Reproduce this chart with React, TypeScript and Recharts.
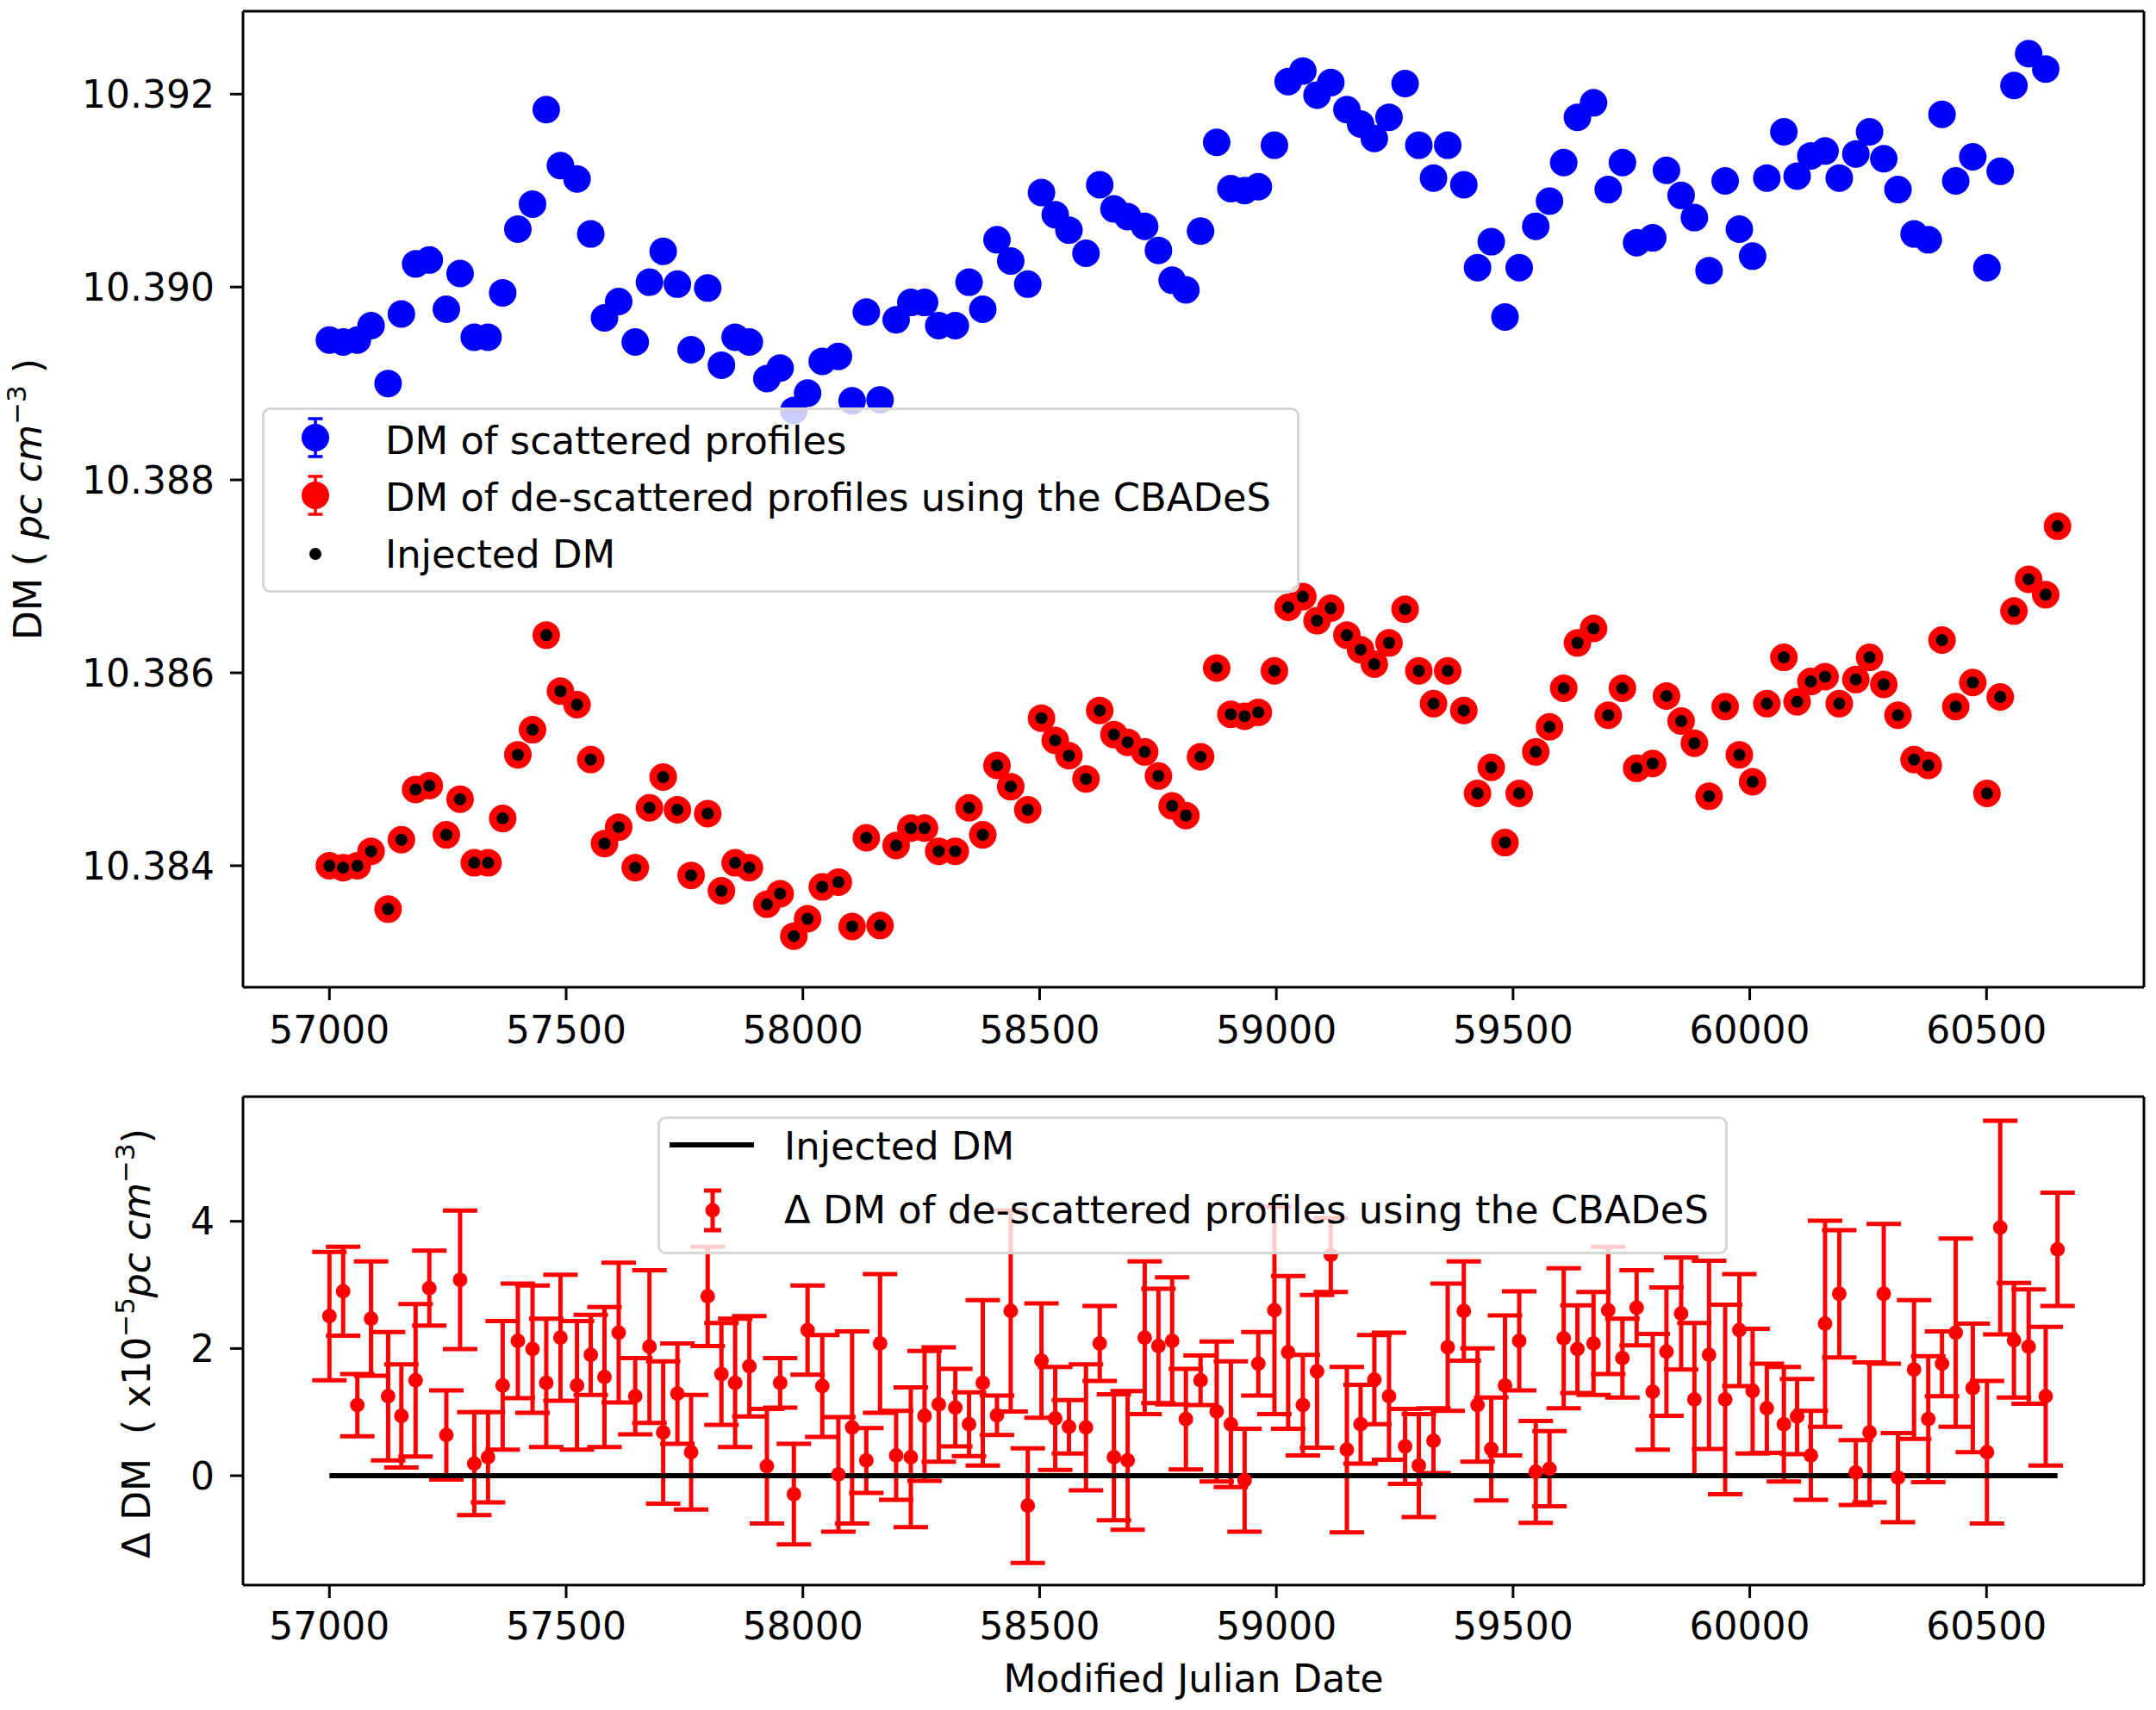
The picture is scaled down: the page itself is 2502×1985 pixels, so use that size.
import { ComposedChart, Scatter, XAxis, YAxis, ErrorBar, Legend } from "recharts";

const FONT = '"DejaVu Sans", Verdana, sans-serif';
const BLUE = "#0000ff";
const RED = "#ff0000";

// Modified Julian Date of each epoch
const mjd = [
  57000, 57029, 57059, 57088, 57124, 57152, 57182, 57211, 57247, 57276,
  57306, 57335, 57366, 57398, 57429, 57458, 57488, 57523, 57552, 57581,
  57611, 57646, 57676, 57705, 57735, 57764, 57799, 57828, 57857, 57887,
  57924, 57952, 57981, 58010, 58041, 58075, 58104, 58134, 58163, 58197,
  58228, 58257, 58287, 58322, 58351, 58380, 58410, 58439, 58475, 58504,
  58533, 58562, 58598, 58627, 58657, 58686, 58722, 58751, 58780, 58809,
  58840, 58874, 58904, 58933, 58962, 58996, 59025, 59056, 59086, 59115,
  59149, 59178, 59207, 59238, 59272, 59301, 59332, 59362, 59396, 59425,
  59454, 59483, 59513, 59548, 59577, 59607, 59636, 59670, 59701, 59731,
  59761, 59795, 59824, 59855, 59883, 59914, 59948, 59978, 60006, 60036,
  60072, 60100, 60129, 60159, 60189, 60224, 60253, 60283, 60313, 60347,
  60377, 60406, 60435, 60471, 60501, 60529, 60558, 60589, 60625, 60650,
];

// DM of scattered profiles (last epoch is off the top of the axes)
const scatteredDm = [
  10.38945, 10.38943, 10.38945, 10.3896, 10.389, 10.38972, 10.39024, 10.39028, 10.38977, 10.39014,
  10.38948, 10.38948, 10.38994, 10.3906, 10.39086, 10.39184, 10.39126, 10.39112, 10.39055, 10.38968,
  10.38985, 10.38943, 10.39005, 10.39037, 10.39003, 10.38935, 10.38999, 10.38919, 10.38948, 10.38943,
  10.38905, 10.38916, 10.38872, 10.3889, 10.38923, 10.38928, 10.38882, 10.38974, 10.38883, 10.38966,
  10.38984, 10.38984, 10.3896, 10.3896, 10.39005, 10.38977, 10.39049, 10.39027, 10.39003, 10.39098,
  10.39075, 10.39059, 10.39035, 10.39106, 10.39081, 10.39073, 10.39063, 10.39038, 10.39007, 10.38997,
  10.39058, 10.3915, 10.39102, 10.391, 10.39104, 10.39147, 10.39213, 10.39224, 10.39199, 10.39212,
  10.39184, 10.39169, 10.39154, 10.39176, 10.39211, 10.39147, 10.39113, 10.39147, 10.39106, 10.3902,
  10.39047, 10.38969, 10.3902, 10.39063, 10.39089, 10.39129, 10.39176, 10.39191, 10.39101, 10.39129,
  10.39046, 10.39051, 10.39121, 10.39095, 10.39072, 10.39017, 10.3911, 10.3906, 10.39032, 10.39113,
  10.39161, 10.39115, 10.39136, 10.39141, 10.39113, 10.39138, 10.39161, 10.39133, 10.39101, 10.39055,
  10.39049, 10.39179, 10.3911, 10.39135, 10.3902, 10.3912, 10.39209, 10.39242, 10.39226,
];

// DM of de-scattered profiles (CBADeS)
const descatteredDm = [
  10.384, 10.38398, 10.384, 10.38415, 10.38355, 10.38427, 10.38479, 10.38483, 10.38432, 10.38469,
  10.38403, 10.38403, 10.38449, 10.38515, 10.38541, 10.38639, 10.38581, 10.38567, 10.3851, 10.38423,
  10.3844, 10.38398, 10.3846, 10.38492, 10.38458, 10.3839, 10.38454, 10.38374, 10.38403, 10.38398,
  10.3836, 10.38371, 10.38327, 10.38345, 10.38378, 10.38383, 10.38337, 10.38429, 10.38338, 10.38421,
  10.38439, 10.38439, 10.38415, 10.38415, 10.3846, 10.38432, 10.38504, 10.38482, 10.38458, 10.38553,
  10.3853, 10.38514, 10.3849, 10.38561, 10.38536, 10.38528, 10.38518, 10.38493, 10.38462, 10.38452,
  10.38513, 10.38605, 10.38557, 10.38555, 10.38559, 10.38602, 10.38668, 10.38679, 10.38654, 10.38667,
  10.38639, 10.38624, 10.38609, 10.38631, 10.38666, 10.38602, 10.38568, 10.38602, 10.38561, 10.38475,
  10.38502, 10.38424, 10.38475, 10.38518, 10.38544, 10.38584, 10.38631, 10.38646, 10.38556, 10.38584,
  10.38501, 10.38506, 10.38576, 10.3855, 10.38527, 10.38472, 10.38565, 10.38515, 10.38487, 10.38568,
  10.38616, 10.3857, 10.38591, 10.38596, 10.38568, 10.38593, 10.38616, 10.38588, 10.38556, 10.3851,
  10.38504, 10.38634, 10.38565, 10.3859, 10.38475, 10.38575, 10.38664, 10.38697, 10.38681, 10.38752,
];

// Injected DM (sits on the de-scattered points at this scale)
const injectedDm = [
  10.384, 10.38398, 10.384, 10.38415, 10.38355, 10.38427, 10.38479, 10.38483, 10.38432, 10.38469,
  10.38403, 10.38403, 10.38449, 10.38515, 10.38541, 10.38639, 10.38581, 10.38567, 10.3851, 10.38423,
  10.3844, 10.38398, 10.3846, 10.38492, 10.38458, 10.3839, 10.38454, 10.38374, 10.38403, 10.38398,
  10.3836, 10.38371, 10.38327, 10.38345, 10.38378, 10.38383, 10.38337, 10.38429, 10.38338, 10.38421,
  10.38439, 10.38439, 10.38415, 10.38415, 10.3846, 10.38432, 10.38504, 10.38482, 10.38458, 10.38553,
  10.3853, 10.38514, 10.3849, 10.38561, 10.38536, 10.38528, 10.38518, 10.38493, 10.38462, 10.38452,
  10.38513, 10.38605, 10.38557, 10.38555, 10.38559, 10.38602, 10.38668, 10.38679, 10.38654, 10.38667,
  10.38639, 10.38624, 10.38609, 10.38631, 10.38666, 10.38602, 10.38568, 10.38602, 10.38561, 10.38475,
  10.38502, 10.38424, 10.38475, 10.38518, 10.38544, 10.38584, 10.38631, 10.38646, 10.38556, 10.38584,
  10.38501, 10.38506, 10.38576, 10.3855, 10.38527, 10.38472, 10.38565, 10.38515, 10.38487, 10.38568,
  10.38616, 10.3857, 10.38591, 10.38596, 10.38568, 10.38593, 10.38616, 10.38588, 10.38556, 10.3851,
  10.38504, 10.38634, 10.38565, 10.3859, 10.38475, 10.38575, 10.38664, 10.38697, 10.38681, 10.38752,
];

// Delta DM of de-scattered profiles, x1e-5 pc cm^-3
const deltaDm = [
  2.51, 2.9, 1.11, 2.47, 1.25, 0.94, 1.5, 2.95, 0.64, 3.08,
  0.19, 0.29, 1.42, 2.12, 1.99, 1.46, 2.17, 1.42, 1.9, 1.55,
  2.25, 1.25, 2.03, 0.68, 1.29, 0.37, 2.82, 1.6, 1.46, 1.72,
  0.15, 1.46, -0.29, 2.29, 1.41, 0.02, 0.76, 0.24, 2.08, 0.32,
  0.29, 0.94, 1.12, 1.07, 0.81, 1.46, 0.95, 2.59, -0.47, 1.81,
  0.9, 0.77, 0.76, 2.08, 0.29, 0.24, 2.17, 2.04, 2.12, 0.89,
  1.5, 1.01, 0.81, -0.07, 1.76, 2.6, 1.94, 1.11, 1.64, 3.47,
  0.41, 0.81, 1.51, 1.25, 0.46, 0.16, 0.55, 2.02, 2.59, 1.11,
  0.42, 1.42, 2.12, 0.06, 0.11, 2.16, 1.99, 2.08, 2.6, 1.85,
  2.64, 1.32, 1.95, 2.55, 1.2, 1.9, 1.2, 2.29, 1.33, 1.06,
  0.81, 0.93, 0.32, 2.39, 2.86, 0.05, 0.68, 2.86, -0.03, 1.67,
  0.89, 1.76, 2.25, 1.38, 0.37, 3.9, 2.13, 2.03, 1.25, 3.56,
];

const deltaErr = [
  1.01, 0.7, 0.49, 0.9, 1.01, 0.81, 1.2, 0.59, 0.7, 1.09,
  0.81, 0.71, 1.01, 0.9, 1.0, 1.01, 0.99, 1.01, 0.63, 1.1,
  1.1, 0.6, 1.2, 1.12, 0.79, 0.9, 0.78, 0.8, 1.01, 0.79,
  0.9, 0.39, 0.79, 0.7, 0.8, 0.9, 1.51, 0.51, 1.09, 0.7,
  1.1, 1.02, 0.9, 0.61, 0.5, 1.3, 0.31, 1.58, 0.9, 0.9,
  0.81, 0.42, 0.99, 0.59, 0.99, 1.09, 1.2, 0.9, 1.0, 0.79,
  0.39, 1.1, 0.99, 0.81, 0.5, 1.63, 1.2, 0.79, 1.2, 0.58,
  1.3, 0.62, 0.7, 1.0, 0.59, 0.81, 0.51, 1.0, 0.78, 0.89,
  0.81, 1.1, 0.78, 0.8, 0.59, 1.1, 0.69, 0.81, 1.0, 0.62,
  0.59, 0.91, 1.01, 0.88, 1.2, 1.48, 1.49, 0.88, 0.98, 0.7,
  0.9, 0.59, 0.7, 1.62, 1.0, 0.51, 1.1, 1.1, 0.7, 1.09,
  0.99, 0.51, 1.48, 1.01, 1.12, 1.68, 0.9, 0.9, 1.09, 0.89,
];

const mjdTicks = [57000, 57500, 58000, 58500, 59000, 59500, 60000, 60500];
const dmTicks = [10.384, 10.386, 10.388, 10.39, 10.392];
const deltaTicks = [0, 2, 4];

const MJD_DOMAIN = [56817.5, 60832.5];
const DM_DOMAIN = [10.38274, 10.39286];
const DELTA_DOMAIN = [-1.72, 5.96];

const scatteredRows = scatteredDm.map((dm, i) => ({ mjd: mjd[i], dm }));
const descatteredRows = descatteredDm.map((dm, i) => ({ mjd: mjd[i], dm }));
const injectedRows = injectedDm.map((dm, i) => ({ mjd: mjd[i], dm }));
const deltaRows = deltaDm.map((d, i) => ({ mjd: mjd[i], d, err: deltaErr[i] }));
const injectedDeltaRows = mjd.map((m) => ({ mjd: m, d: 0 }));

const tickStyle = { fill: "#000", fontSize: 44, fontFamily: FONT };
const lineStyle = { stroke: "#000", strokeWidth: 3 };

const dot = (r: number, fill: string) => (p: any) =>
  <circle cx={p.cx} cy={p.cy} r={r} fill={fill} />;

const legendBox = (w: number, h: number) => ({
  width: w,
  height: h,
  boxSizing: "border-box" as const,
  background: "rgba(255,255,255,0.8)",
  border: "3px solid #d6d6d6",
  borderRadius: 9,
});

const ErrIcon = ({ x, y, r, half, cap, color, sw }: any) => (
  <g>
    <line x1={x} x2={x} y1={y - half} y2={y + half} stroke={color} strokeWidth={sw} />
    <line x1={x - cap / 2} x2={x + cap / 2} y1={y - half} y2={y - half} stroke={color} strokeWidth={sw} />
    <line x1={x - cap / 2} x2={x + cap / 2} y1={y + half} y2={y + half} stroke={color} strokeWidth={sw} />
    <circle cx={x} cy={y} r={r} fill={color} />
  </g>
);

const TopLegend = () => (
  <div style={legendBox(1204, 215)}>
    <svg width={1198} height={209} style={{ display: "block" }} fontFamily={FONT} fontSize={44.8}>
      <ErrIcon x={59} y={32} r={16} half={22} cap={17} color={BLUE} sw={3.5} />
      <text x={140} y={51}>DM of scattered profiles</text>
      <ErrIcon x={59} y={99} r={16} half={22} cap={17} color={RED} sw={3.5} />
      <text x={140} y={117}>DM of de-scattered profiles using the CBADeS</text>
      <circle cx={59} cy={167} r={7} fill="#000" />
      <text x={140} y={183}>Injected DM</text>
    </svg>
  </div>
);

const BottomLegend = () => (
  <div style={legendBox(1242, 160)}>
    <svg width={1236} height={154} style={{ display: "block" }} fontFamily={FONT} fontSize={44.8}>
      <line x1={11} x2={109} y1={30} y2={30} stroke="#000" strokeWidth={6} />
      <text x={144} y={47}>Injected DM</text>
      <ErrIcon x={61} y={106} r={8.5} half={23} cap={20} color={RED} sw={5} />
      <text x={144} y={121}>Δ DM of de-scattered profiles using the CBADeS</text>
    </svg>
  </div>
);

const TopYLabel = (props: any) => {
  const vb = props.viewBox || { x: 0, y: 13, width: 282, height: 1133 };
  const cy = vb.y + vb.height / 2;
  const x = 48;
  return (
    <text x={x} y={cy} transform={`rotate(-90 ${x} ${cy})`} textAnchor="middle"
      fontFamily={FONT} fontSize={44} fill="#000" style={{ whiteSpace: "pre" }}>
      {"DM ( "}
      <tspan fontStyle="italic">pc cm</tspan>
      <tspan dy={-18} fontSize={31}>−3</tspan>
      <tspan dy={18}>{" )"}</tspan>
    </text>
  );
};

const BottomYLabel = (props: any) => {
  const vb = props.viewBox || { x: 0, y: 23, width: 282, height: 567 };
  const cy = vb.y + vb.height / 2 + 3;
  const x = 174;
  return (
    <text x={x} y={cy} transform={`rotate(-90 ${x} ${cy})`} textAnchor="middle"
      fontFamily={FONT} fontSize={44} fill="#000" style={{ whiteSpace: "pre" }}>
      {"Δ DM  ( x10"}
      <tspan dy={-18} fontSize={31}>−5</tspan>
      <tspan dy={18} fontStyle="italic">pc cm</tspan>
      <tspan dy={-18} fontSize={31}>−3</tspan>
      <tspan dy={18}>{")"}</tspan>
    </text>
  );
};

const XLabel = (props: any) => {
  const vb = props.viewBox || { x: 282, y: 590, width: 2206, height: 145 };
  return (
    <text x={vb.x + vb.width / 2} y={vb.y + 124} textAnchor="middle"
      fontFamily={FONT} fontSize={44} fill="#000">
      Modified Julian Date
    </text>
  );
};

export default function App() {
  return (
    <div style={{ position: "absolute", left: 0, top: 0, width: 2502, height: 1985, background: "#fff" }}>
      <div style={{ position: "absolute", left: 0, top: 0 }}>
        <ComposedChart width={2502} height={1250} margin={{ top: 12, right: 13, bottom: 0, left: 0 }}>
          <XAxis xAxisId="b" dataKey="mjd" type="number" domain={MJD_DOMAIN} ticks={mjdTicks}
            interval={0} height={104} tick={tickStyle} tickLine={lineStyle} axisLine={lineStyle}
            tickSize={15} tickMargin={19} allowDataOverflow />
          <XAxis xAxisId="t" orientation="top" type="number" domain={MJD_DOMAIN} height={1}
            tick={false} tickLine={false} axisLine={lineStyle} allowDataOverflow />
          <YAxis yAxisId="l" type="number" domain={DM_DOMAIN} ticks={dmTicks} interval={0}
            width={282} tick={tickStyle} tickLine={lineStyle} axisLine={lineStyle}
            tickSize={15} tickMargin={18} tickFormatter={(v: number) => v.toFixed(3)}
            allowDataOverflow label={(p: any) => <TopYLabel {...p} />} />
          <YAxis yAxisId="r" orientation="right" type="number" domain={DM_DOMAIN} width={1}
            tick={false} tickLine={false} axisLine={lineStyle} allowDataOverflow />
          <Scatter xAxisId="b" yAxisId="l" name="DM of scattered profiles" data={scatteredRows}
            dataKey="dm" shape={dot(16, BLUE)} isAnimationActive={false} />
          <Scatter xAxisId="b" yAxisId="l" name="DM of de-scattered profiles using the CBADeS"
            data={descatteredRows} dataKey="dm" shape={dot(16, RED)} isAnimationActive={false} />
          <Scatter xAxisId="b" yAxisId="l" name="Injected DM" data={injectedRows} dataKey="dm"
            shape={dot(7, "#000")} isAnimationActive={false} />
          <Legend verticalAlign="middle" align="center" layout="horizontal"
            content={() => <TopLegend />}
            wrapperStyle={{ left: 304, top: 473, width: 1204, height: 215 }} />
        </ComposedChart>
      </div>
      <div style={{ position: "absolute", left: 0, top: 1250 }}>
        <ComposedChart width={2502} height={735} margin={{ top: 22, right: 13, bottom: 0, left: 0 }}>
          <XAxis xAxisId="b" dataKey="mjd" type="number" domain={MJD_DOMAIN} ticks={mjdTicks}
            interval={0} height={145} tick={tickStyle} tickLine={lineStyle} axisLine={lineStyle}
            tickSize={15} tickMargin={17} allowDataOverflow label={(p: any) => <XLabel {...p} />} />
          <XAxis xAxisId="t" orientation="top" type="number" domain={MJD_DOMAIN} height={1}
            tick={false} tickLine={false} axisLine={lineStyle} allowDataOverflow />
          <YAxis yAxisId="l" type="number" domain={DELTA_DOMAIN} ticks={deltaTicks} interval={0}
            width={282} tick={tickStyle} tickLine={lineStyle} axisLine={lineStyle}
            tickSize={15} tickMargin={18} allowDataOverflow
            label={(p: any) => <BottomYLabel {...p} />} />
          <YAxis yAxisId="r" orientation="right" type="number" domain={DELTA_DOMAIN} width={1}
            tick={false} tickLine={false} axisLine={lineStyle} allowDataOverflow />
          <Scatter xAxisId="b" yAxisId="l" name="Injected DM" data={injectedDeltaRows} dataKey="d"
            line={{ stroke: "#000", strokeWidth: 6 }} shape={() => <g />} isAnimationActive={false} />
          <Scatter xAxisId="b" yAxisId="l" name="Δ DM of de-scattered profiles using the CBADeS"
            data={deltaRows} dataKey="d" shape={dot(8.5, RED)} isAnimationActive={false}>
            <ErrorBar dataKey="err" direction="y" width={20} strokeWidth={5} stroke={RED}
              isAnimationActive={false} />
          </Scatter>
          <Legend verticalAlign="middle" align="center" layout="horizontal"
            content={() => <BottomLegend />}
            wrapperStyle={{ left: 763, top: 46, width: 1242, height: 160 }} />
        </ComposedChart>
      </div>
    </div>
  );
}
